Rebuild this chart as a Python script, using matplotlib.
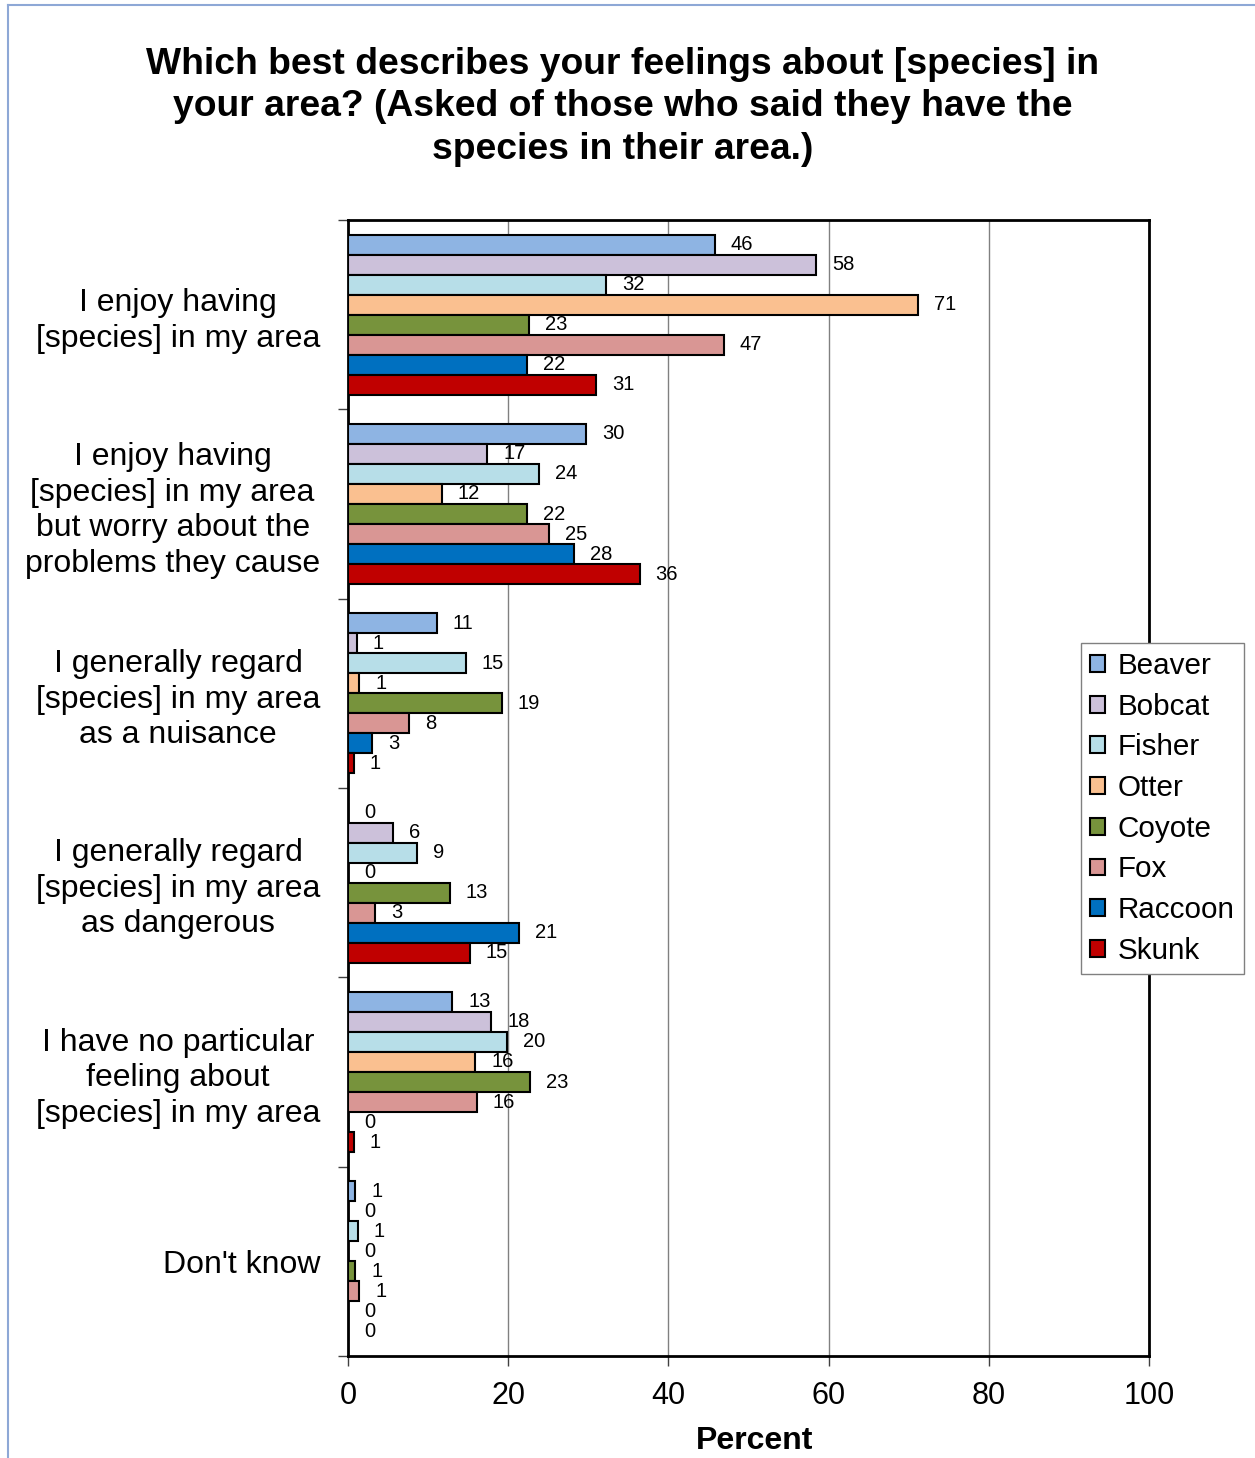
import matplotlib.pyplot as plt
from matplotlib.patches import Patch
from matplotlib.lines import Line2D

plt.rcParams['font.family'] = ['Liberation Sans', 'DejaVu Sans']

categories = ["I enjoy having\n[species] in my area",
              "I enjoy having\n[species] in my area\nbut worry about the\nproblems they cause",
              "I generally regard\n[species] in my area\nas a nuisance",
              "I generally regard\n[species] in my area\nas dangerous",
              "I have no particular\nfeeling about\n[species] in my area",
              "Don't know"]

species = ["Beaver", "Bobcat", "Fisher", "Otter", "Coyote", "Fox", "Raccoon", "Skunk"]
colors = ["#8EB4E3", "#CCC1DA", "#B7DEE8", "#FAC090", "#77933C", "#D99694", "#0070C0", "#C00000"]

# percent per category, one list per species
beaver = [45.8, 29.7, 11.1, 0, 13.0, 0.9]
bobcat = [58.4, 17.4, 1.1, 5.6, 17.9, 0]
fisher = [32.2, 23.8, 14.7, 8.6, 19.9, 1.2]
otter = [71.2, 11.7, 1.4, 0, 15.9, 0]
coyote = [22.6, 22.3, 19.2, 12.7, 22.7, 0.9]
fox = [46.9, 25.1, 7.6, 3.4, 16.1, 1.4]
raccoon = [22.3, 28.2, 3.0, 21.4, 0, 0]
skunk = [31.0, 36.4, 0.7, 15.2, 0.7, 0]

series = [beaver, bobcat, fisher, otter, coyote, fox, raccoon, skunk]

fig = plt.figure(figsize=(12.55, 14.58), dpi=100)
ax = fig.add_axes([348/1255, 1 - 1356/1458, 801/1255, 1136/1458])

h = 20 / 189.33
for j, vals in enumerate(series):
    ys = [i + (j - 3.5) * h for i in range(len(categories))]
    ax.barh(ys, vals, height=h, color=colors[j], edgecolor="black", linewidth=1.5, zorder=3)
    for y, v in zip(ys, vals):
        ax.annotate(f"{v:.0f}", (v, y), textcoords="offset pixels", xytext=(16, 0),
                    ha="left", va="center", fontsize=14.5, zorder=4)

ax.set_xlim(0, 100)
ax.set_ylim(len(categories) - 0.5, -0.5)
ax.set_xticks(range(0, 101, 20))
ax.tick_params(axis="x", labelsize=22, direction="out", length=7, width=1, color="#404040", pad=11)
ax.set_yticks([i - 0.5 for i in range(len(categories) + 1)])
ax.set_yticklabels([])
ax.tick_params(axis="y", which="major", direction="out", length=7, width=1, color="#404040")
ax.set_yticks(range(len(categories)), minor=True)
ax.set_yticklabels(categories, minor=True, fontsize=23, linespacing=1.24)
ax.tick_params(axis="y", which="minor", length=0, pad=20)
for lbl in ax.get_yticklabels(minor=True):
    lbl.set_multialignment("center")

ax.grid(axis="x", color="#808080", linewidth=1, zorder=0)
ax.set_axisbelow(True)
for s in ax.spines.values():
    s.set_linewidth(2)
    s.set_color("black")

ax.set_xlabel("Percent", fontsize=23, fontweight="bold")
ax.xaxis.set_label_coords(0.508, -0.062)

fig.text(623/1255, 1 - 107/1458,
         "Which best describes your feelings about [species] in\n"
         "your area? (Asked of those who said they have the\n"
         "species in their area.)",
         ha="center", va="center", fontsize=26.8, fontweight="bold", linespacing=1.28)

handles = [Patch(facecolor=c, edgecolor="black", linewidth=1.5) for c in colors]
leg = fig.legend(handles, species, loc="upper left",
                 bbox_to_anchor=(1081/1255, 1 - 643/1458), fontsize=21.3,
                 frameon=True, fancybox=False, edgecolor="#808080", framealpha=1,
                 handlelength=0.5, handleheight=0.5, handletextpad=0.45,
                 labelspacing=0.43, borderpad=0.3, borderaxespad=0)
leg.get_frame().set_linewidth(1)
leg.set_zorder(10)

# outer chart border
fig.add_artist(Line2D([8/1255, 8/1255], [0, 1 - 5/1458], color="#8EA8D6", linewidth=1.5))
fig.add_artist(Line2D([8/1255, 1], [1 - 5/1458, 1 - 5/1458], color="#8EA8D6", linewidth=1.5))

fig.savefig("out.png", dpi=100)
